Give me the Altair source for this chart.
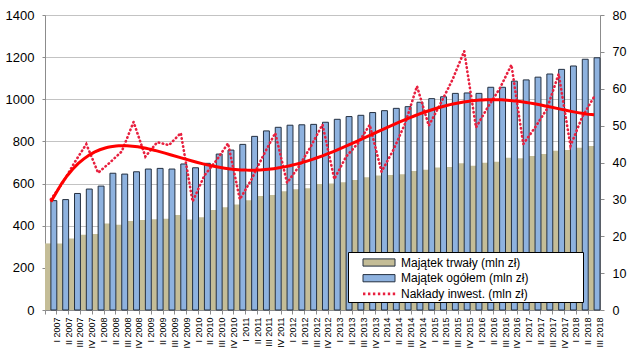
import altair as alt
import pandas as pd

# ---------------- data ----------------
kwartaly = [f"{q} {y}" for y in range(2007, 2019) for q in ["I", "II", "III", "IV"]][:47]

trwaly = [316, 316, 339, 357, 361, 411, 405, 422, 427, 431, 433, 451,
          430, 440, 474, 488, 501, 521, 541, 546, 563, 573, 578, 598,
          600, 606, 617, 630, 638, 641, 644, 660, 666, 676, 679, 697,
          685, 699, 704, 723, 720, 731, 740, 756, 759, 770, 778]

ogolem = [519, 524, 553, 574, 588, 649, 645, 656, 669, 672, 669, 693,
          675, 696, 740, 759, 786, 824, 850, 867, 877, 879, 881, 891,
          905, 918, 924, 937, 946, 957, 965, 986, 1003, 1012, 1028, 1030,
          1028, 1057, 1057, 1086, 1092, 1105, 1120, 1142, 1158, 1190, 1197]

naklady = [30, 34.5, 40, 45, 37.2, 40, 43, 51, 41.6, 45.5, 44.7, 48,
           29.4, 36.5, 40.5, 45.2, 30, 35.5, 42, 48, 34.5, 38.9, 44.3, 50.3,
           35.5, 41.6, 45.2, 50.2, 37.5, 43.4, 50.6, 60.7, 50, 56, 62.4, 70.2,
           49.5, 55, 60, 66.5, 45, 49.5, 54.5, 64, 44.5, 52.4, 57.8]

legend_items = ["Majątek trwały (mln zł)", "Majątek ogółem (mln zł)", "Nakłady inwest. (mln zł)"]

left_ticks = [0, 200, 400, 600, 800, 1000, 1200, 1400]
right_ticks = [0, 10, 20, 30, 40, 50, 60, 70, 80]

df = pd.DataFrame({
    "kw": kwartaly,
    "idx": list(range(len(kwartaly))),
    "trwaly": trwaly,
    "ogolem": ogolem,
    "naklady": naklady,
})

# ---------------- styles ----------------
FONT = "Liberation Sans"
TAN = "#C4BD97"
BLUE = "#8EB2DF"
EDGE = "#243041"
DOT_RED = "#E8203F"
TREND_RED = "#FF0000"
GRID = "#C3C3C3"
AXIS = "#8C8C8C"
N = len(kwartaly)

x_band = alt.X(
    "kw:N", sort=kwartaly,
    scale=alt.Scale(paddingInner=0, paddingOuter=0),
    axis=alt.Axis(title=None, labelAngle=-90, labelFontSize=9, labelFont=FONT,
                  labelColor="#000000", labelPadding=3, labelOverlap=False,
                  bandPosition=0, labelOffset=5.9, tickSize=4, tickColor=AXIS,
                  domainColor=AXIS, grid=False),
)

left_axis = alt.Axis(title=None, values=left_ticks, format="d", grid=True, gridColor=GRID,
                     tickSize=3, tickColor=AXIS, domainColor=AXIS,
                     labelFontSize=13, labelFont=FONT, labelPadding=8,
                     labelColor="#000000")
left_scale = alt.Scale(domain=[0, 1400], nice=False)

tan = alt.Chart(df).mark_bar(color=TAN).encode(
    x=x_band,
    y=alt.Y("trwaly:Q", scale=left_scale, axis=left_axis),
)
blue = alt.Chart(df).mark_bar(
    color=BLUE, stroke=EDGE, strokeWidth=1,
    width=alt.RelativeBandSize(0.5), xOffset=2.95,
).encode(
    x=x_band,
    y=alt.Y("ogolem:Q", scale=left_scale, axis=left_axis),
)
bars = alt.layer(tan, blue)

x_q = alt.X("idx:Q", scale=alt.Scale(domain=[-0.5, N - 0.5], nice=False, zero=False), axis=None)
right_axis = alt.Axis(title=None, orient="right", values=right_ticks, grid=False,
                      tickSize=4, tickColor=AXIS, domainColor=AXIS,
                      labelFontSize=12.5, labelFont=FONT, labelPadding=8,
                      labelColor="#000000")
right_scale = alt.Scale(domain=[0, 80], nice=False)

dotted = alt.Chart(df).mark_line(
    color=DOT_RED, strokeWidth=2.6, strokeDash=[0.5, 3.6], strokeCap="round"
).encode(x=x_q, y=alt.Y("naklady:Q", scale=right_scale, axis=right_axis))

trend = alt.Chart(df).transform_regression(
    "idx", "naklady", method="poly", order=5, extent=[0, N - 1]
).mark_line(color=TREND_RED, strokeWidth=3).encode(
    x=x_q, y=alt.Y("naklady:Q", scale=right_scale, axis=right_axis)
)
lines = alt.layer(dotted, trend)

# ---------------- legend ----------------
RECT = "M-2,-0.45H2V0.45H-2Z"
DOTS = "".join(f"M{-2 + k * 0.62:.2f},-0.16h0.3v0.32h-0.3Z" for k in range(7))
leg_props = dict(orient="none", legendX=303, legendY=237,
                 title=".", titleColor="white", titleFontSize=9, titleOrient="right",
                 titlePadding=50,
                 fillColor="white", strokeColor="#000000", padding=2,
                 symbolSize=256, symbolStrokeWidth=1, symbolOpacity=1,
                 labelFont=FONT, labelFontSize=12, labelColor="#000000",
                 labelLimit=500, labelOffset=13.5, symbolOffset=20.5, rowPadding=0.7)

leg = alt.Chart(pd.DataFrame({"item": legend_items})).transform_filter("false").mark_point(
    filled=True
).encode(
    fill=alt.Fill("item:N", scale=alt.Scale(domain=legend_items, range=[TAN, BLUE, DOT_RED]),
                  legend=alt.Legend(**leg_props)),
    stroke=alt.Stroke("item:N", scale=alt.Scale(domain=legend_items, range=[EDGE, EDGE, "transparent"]),
                      legend=alt.Legend(**leg_props)),
    shape=alt.Shape("item:N", scale=alt.Scale(domain=legend_items, range=[RECT, RECT, DOTS]),
                    legend=alt.Legend(**leg_props)),
)

chart = alt.layer(bars, lines, leg).resolve_scale(
    x="independent", y="independent"
).properties(
    width=555, height=295,
    autosize=alt.AutoSizeParams(type="none"),
    padding={"left": 45, "top": 15, "right": 29, "bottom": 44},
).configure_view(stroke=None).configure(background="white")

chart.save("out.html", embed_options={"renderer": "svg", "actions": False})
